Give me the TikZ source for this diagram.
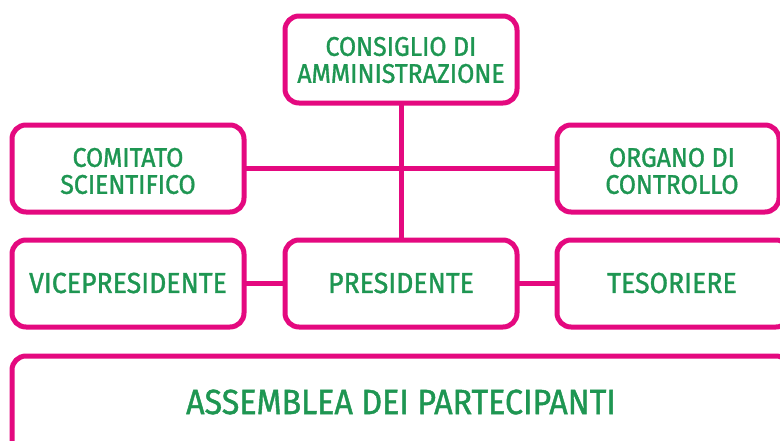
\documentclass[tikz,border=0pt]{standalone}
\usepackage{fontspec}
\newfontfamily\hand[FakeStretch=0.92,FakeBold=1.2]{Fira Sans}
\definecolor{pinkline}{HTML}{E4097F}
\definecolor{greentext}{HTML}{1E9652}
\begin{document}
\begin{tikzpicture}[x=1pt,y=-1pt,
  orgbox/.style={draw=pinkline,line width=5pt,rounded corners=14pt,fill=white},
  orgtxt/.style={text=greentext,font=\hand\fontsize{29}{29}\selectfont,align=center},
  twoline/.style={font=\hand\fontsize{27}{27}\selectfont},
  link/.style={draw=pinkline,line width=5pt}]
\useasboundingbox (0,0) rectangle (780,440);
\clip (0,0) rectangle (780,440);
% connectors first
\coordinate (tb) at (401,104);
\coordinate (pt) at (401,238);
\draw[link] (tb) -- (pt);
\coordinate (hl) at (245,168);
\coordinate (hr) at (556,168);
\draw[link] (hl) -- (hr);
\coordinate (vl) at (245,283);
\coordinate (pl) at (285,283);
\draw[link] (vl) -- (pl);
\coordinate (pr) at (517,283);
\coordinate (tl) at (556,283);
\draw[link] (pr) -- (tl);
% boxes
\draw[orgbox] (285,16) rectangle (517,103);
\draw[orgbox] (12,125) rectangle (244,212);
\draw[orgbox] (557,125) rectangle (779,212);
\draw[orgbox] (12,240) rectangle (244,327);
\draw[orgbox] (285,240) rectangle (517,327);
\draw[orgbox] (557,240) rectangle (790,327);
\draw[orgbox] (12,356) rectangle (790,460);
% texts
\node[orgtxt,twoline] (cda) at (401,60) {CONSIGLIO DI\\AMMINISTRAZIONE};
\node[orgtxt,twoline] (cs) at (128,171) {COMITATO\\SCIENTIFICO};
\node[orgtxt,twoline] (oc) at (672,171) {ORGANO DI\\CONTROLLO};
\node[orgtxt] (vp) at (128,283) {VICEPRESIDENTE};
\node[orgtxt] (pr) at (401,283) {PRESIDENTE};
\node[orgtxt] (te) at (672,283) {TESORIERE};
\node[orgtxt,font=\hand\fontsize{35}{36}\selectfont] (ap) at (401,402) {ASSEMBLEA DEI PARTECIPANTI};
\end{tikzpicture}
\end{document}
